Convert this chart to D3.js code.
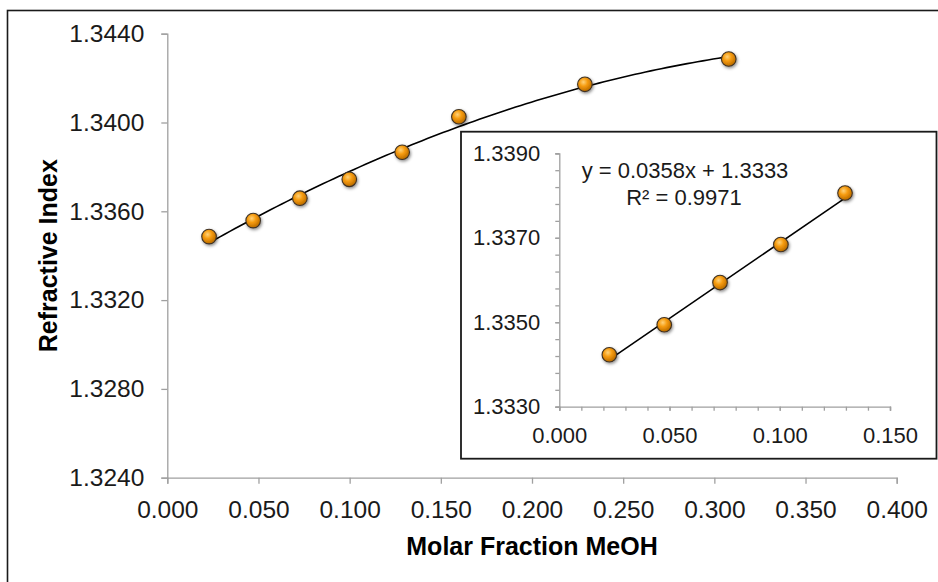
<!DOCTYPE html>
<meta charset="utf-8">
<style>

body {
  margin: 0;
  background: #fff;
}

svg {
  display: block;
  font-family: "Liberation Sans", Arial, sans-serif;
}

.axis path,
.axis line {
  fill: none;
  stroke: #a0a0a0;
  stroke-width: 1.3px;
}

.axis text {
  fill: #1a1a1a;
}

.title {
  font-weight: bold;
  fill: #000;
}

</style>
<body>
<svg width="938" height="582"></svg>
<script src="https://cdn.jsdelivr.net/npm/d3@7"></script>
<script>

// main chart: molar fraction vs refractive index
var fraction = [0.0229, 0.0471, 0.0727, 0.0998, 0.1288, 0.1599, 0.2290, 0.3079],
    refIndex = [1.33486, 1.33558, 1.33659, 1.33744, 1.33866, 1.34026, 1.34172, 1.34286];

// inset: low-fraction points with linear trend
var insetFraction = [0.0227, 0.0476, 0.0729, 0.1005, 0.1296],
    insetIndex = [1.33423, 1.33494, 1.33594, 1.33684, 1.33806];
var slope = 0.0358, intercept = 1.3333;
var equationText = "y = 0.0358x + 1.3333",
    r2Text = "R\u00b2 = 0.9971";

var xTicks = [0, 0.05, 0.1, 0.15, 0.2, 0.25, 0.3, 0.35, 0.4],
    yTicks = [1.324, 1.328, 1.332, 1.336, 1.340, 1.344],
    insetXTicks = [0, 0.05, 0.1, 0.15],
    insetYTicks = [1.333, 1.335, 1.337, 1.339],
    insetXMinor = [0, 0.01, 0.02, 0.03, 0.04, 0.05, 0.06, 0.07, 0.08, 0.09, 0.1, 0.11, 0.12, 0.13, 0.14, 0.15],
    insetYMinor = [1.333, 1.3334, 1.3338, 1.3342, 1.3346, 1.335, 1.3354, 1.3358, 1.3362, 1.3366,
                   1.337, 1.3374, 1.3378, 1.3382, 1.3386, 1.339];

var svg = d3.select("svg");

var defs = svg.append("defs");
var grad = defs.append("radialGradient")
    .attr("id", "ball")
    .attr("cx", "40%").attr("cy", "35%").attr("r", "65%");
grad.append("stop").attr("offset", "0%").attr("stop-color", "#ffd27a");
grad.append("stop").attr("offset", "45%").attr("stop-color", "#f59a0c");
grad.append("stop").attr("offset", "100%").attr("stop-color", "#b86a00");

var shadow = defs.append("filter")
    .attr("id", "shadow")
    .attr("x", "-50%").attr("y", "-50%").attr("width", "200%").attr("height", "200%");
shadow.append("feDropShadow")
    .attr("dx", 1).attr("dy", 1.5)
    .attr("stdDeviation", 1.4)
    .attr("flood-color", "#000")
    .attr("flood-opacity", 0.45);

// outer chart frame (runs off the right and bottom edges)
svg.append("rect")
    .attr("x", 7.5).attr("y", 10.5)
    .attr("width", 960).attr("height", 600)
    .attr("fill", "#fff")
    .attr("stroke", "#1a1a1a")
    .attr("stroke-width", 1.6);

var x = d3.scaleLinear().domain([0, 0.4]).range([167.3, 896.7]),
    y = d3.scaleLinear().domain([1.324, 1.344]).range([477.7, 33.7]);

svg.append("g")
    .attr("class", "axis")
    .attr("transform", "translate(0," + y.range()[0] + ")")
    .call(d3.axisBottom(x).tickValues(xTicks).tickFormat(d3.format(".3f")).tickSize(6).tickSizeOuter(6).tickPadding(17))
    .call(function(g) { g.selectAll("text").style("font-size", "24.5px").attr("font-family", null); });

svg.append("g")
    .attr("class", "axis")
    .attr("transform", "translate(" + x.range()[0] + ",0)")
    .call(d3.axisLeft(y).tickValues(yTicks).tickFormat(d3.format(".4f")).tickSize(6).tickSizeOuter(6).tickPadding(17))
    .call(function(g) { g.selectAll("text").style("font-size", "24.5px").attr("font-family", null); });

svg.append("text")
    .attr("class", "title")
    .attr("x", (x.range()[0] + x.range()[1]) / 2)
    .attr("y", 555)
    .attr("text-anchor", "middle")
    .style("font-size", "25px")
    .text("Molar Fraction MeOH");

svg.append("text")
    .attr("class", "title")
    .attr("transform", "translate(57," + (y.range()[0] + y.range()[1]) / 2 + ") rotate(-90)")
    .attr("text-anchor", "middle")
    .style("font-size", "25px")
    .text("Refractive Index");

// quadratic trendline, least squares over the main points
function quadFit(xs, ys) {
  var n = xs.length, s = [0, 0, 0, 0, 0], t = [0, 0, 0];
  for (var i = 0; i < n; i++) {
    var p = 1;
    for (var k = 0; k < 5; k++) { s[k] += p; if (k < 3) t[k] += p * ys[i]; p *= xs[i]; }
  }
  var m = [[s[0], s[1], s[2], t[0]], [s[1], s[2], s[3], t[1]], [s[2], s[3], s[4], t[2]]];
  for (var c = 0; c < 3; c++) {
    for (var r = c + 1; r < 3; r++) {
      var f = m[r][c] / m[c][c];
      for (var j = c; j < 4; j++) m[r][j] -= f * m[c][j];
    }
  }
  var b = [0, 0, 0];
  for (var r2 = 2; r2 >= 0; r2--) {
    var v = m[r2][3];
    for (var j2 = r2 + 1; j2 < 3; j2++) v -= m[r2][j2] * b[j2];
    b[r2] = v / m[r2][r2];
  }
  return function(xv) { return b[0] + b[1] * xv + b[2] * xv * xv; };
}

var curve = quadFit(fraction, refIndex);
var x0 = d3.min(fraction), x1 = d3.max(fraction);
var curvePts = d3.range(0, 101).map(function(i) { var xv = x0 + (x1 - x0) * i / 100; return [xv, curve(xv)]; });

svg.append("path")
    .datum(curvePts)
    .attr("fill", "none")
    .attr("stroke", "#000")
    .attr("stroke-width", 1.6)
    .attr("d", d3.line().x(function(d) { return x(d[0]); }).y(function(d) { return y(d[1]); }));

svg.append("g")
    .selectAll("circle")
    .data(fraction)
    .join("circle")
    .attr("cx", function(d) { return x(d); })
    .attr("cy", function(d, i) { return y(refIndex[i]); })
    .attr("r", 7.3)
    .attr("fill", "url(#ball)")
    .attr("stroke", "#3f3224")
    .attr("stroke-width", 1.1)
    .attr("filter", "url(#shadow)");

// inset
svg.append("rect")
    .attr("x", 461).attr("y", 131.7)
    .attr("width", 475.5).attr("height", 327)
    .attr("fill", "#fff")
    .attr("stroke", "#1a1a1a")
    .attr("stroke-width", 1.8);

var ix = d3.scaleLinear().domain([0, 0.15]).range([559.3, 890]),
    iy = d3.scaleLinear().domain([1.333, 1.339]).range([406.7, 153.3]);

svg.append("g")
    .attr("class", "axis")
    .attr("transform", "translate(0," + iy.range()[0] + ")")
    .call(d3.axisBottom(ix).tickValues(insetXMinor).tickFormat("").tickSize(4).tickSizeOuter(4));

svg.append("g")
    .attr("class", "axis")
    .attr("transform", "translate(0," + iy.range()[0] + ")")
    .call(d3.axisBottom(ix).tickValues(insetXTicks).tickFormat(d3.format(".3f")).tickSize(4).tickPadding(17))
    .call(function(g) { g.select(".domain").remove(); g.selectAll("text").style("font-size", "22px").attr("font-family", null); });

svg.append("g")
    .attr("class", "axis")
    .attr("transform", "translate(" + ix.range()[0] + ",0)")
    .call(d3.axisLeft(iy).tickValues(insetYMinor).tickFormat("").tickSize(4).tickSizeOuter(4));

svg.append("g")
    .attr("class", "axis")
    .attr("transform", "translate(" + ix.range()[0] + ",0)")
    .call(d3.axisLeft(iy).tickValues(insetYTicks).tickFormat(d3.format(".4f")).tickSize(4).tickPadding(15))
    .call(function(g) { g.select(".domain").remove(); g.selectAll("text").style("font-size", "22px").attr("font-family", null); });

var ix0 = d3.min(insetFraction), ix1 = d3.max(insetFraction);
svg.append("line")
    .attr("x1", ix(ix0)).attr("y1", iy(slope * ix0 + intercept))
    .attr("x2", ix(ix1)).attr("y2", iy(slope * ix1 + intercept))
    .attr("stroke", "#000")
    .attr("stroke-width", 1.6);

svg.append("g")
    .selectAll("circle")
    .data(insetFraction)
    .join("circle")
    .attr("cx", function(d) { return ix(d); })
    .attr("cy", function(d, i) { return iy(insetIndex[i]); })
    .attr("r", 7.3)
    .attr("fill", "url(#ball)")
    .attr("stroke", "#3f3224")
    .attr("stroke-width", 1.1)
    .attr("filter", "url(#shadow)");

svg.append("text")
    .attr("x", 685).attr("y", 178)
    .attr("text-anchor", "middle")
    .style("font-size", "22px")
    .attr("fill", "#1a1a1a")
    .text(equationText);

svg.append("text")
    .attr("x", 684).attr("y", 205)
    .attr("text-anchor", "middle")
    .style("font-size", "22px")
    .attr("fill", "#1a1a1a")
    .text(r2Text);

</script>
</body>
